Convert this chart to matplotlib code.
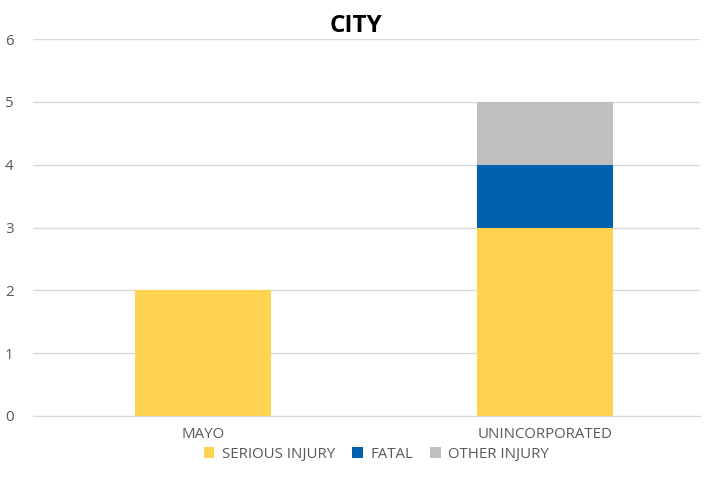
import matplotlib
matplotlib.use("Agg")
import matplotlib.pyplot as plt
import numpy as np

plt.rcParams["font.family"] = ["Open Sans", "DejaVu Sans"]

# == Datos ==
ciudades = ["MAYO", "UNINCORPORATED"]
serious_injury = [2, 3]
fatal = [0, 1]
other_injury = [0, 1]

series = [
    ("SERIOUS INJURY", serious_injury, "#FFD34F"),
    ("FATAL", fatal, "#0062AC"),
    ("OTHER INJURY", other_injury, "#BFBFBF"),
]

fig = plt.figure(figsize=(7.1, 4.92), dpi=100)
ax = fig.add_axes([0.0465, 0.1545, 0.9395, 0.7662])

x = np.arange(len(ciudades))
bottom = np.zeros(len(ciudades))
for nombre, valores, color in series:
    ax.bar(x, valores, width=0.398, bottom=bottom, color=color, label=nombre, zorder=2)
    bottom += np.array(valores)

ax.set_xlim(-0.497, 1.453)
ax.set_ylim(0, 6)
ax.set_yticks(range(0, 7))
ax.set_xticks(x)
ax.set_xticklabels(ciudades)
ax.grid(axis="y", color="#D9D9D9", linewidth=1, zorder=0)
for s in ["top", "right", "left"]:
    ax.spines[s].set_visible(False)
ax.spines["bottom"].set_color("#D9D9D9")
ax.tick_params(axis="both", length=0, colors="#595959", labelsize=10.8)
ax.tick_params(axis="y", pad=14)
ax.tick_params(axis="x", pad=8)

fig.text(0.502, 0.948, "CITY", ha="center", va="center", fontsize=17.5,
         fontweight="bold", color="black")

leg = fig.legend(loc="center", bbox_to_anchor=(0.53, 0.077), ncol=3, frameon=False,
                 fontsize=10.8, handlelength=0.7, handleheight=0.7,
                 columnspacing=1.15, handletextpad=0.5)
for t in leg.get_texts():
    t.set_color("#595959")

fig.savefig("out.png", dpi=100)
